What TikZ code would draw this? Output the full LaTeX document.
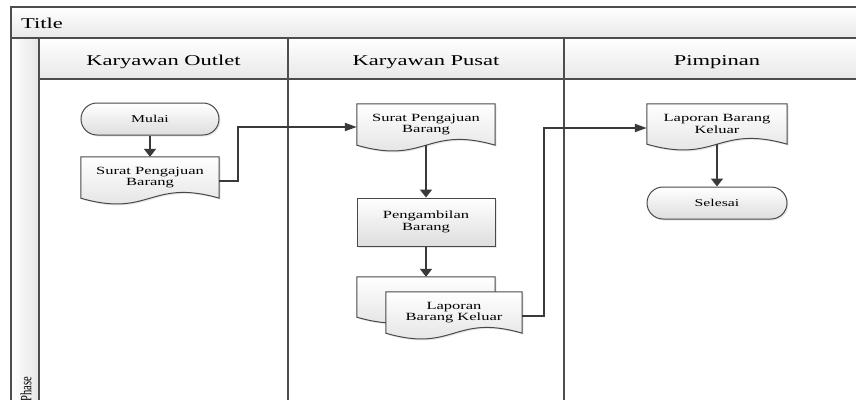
\documentclass[tikz,border=0pt]{standalone}
\usepackage{fontspec}
\setmainfont{Liberation Serif}[FakeStretch=1.5]
\newfontfamily\plainserif{Liberation Serif}
\usetikzlibrary{arrows.meta,backgrounds,shadows,shapes.misc}

\definecolor{frameline}{HTML}{4D4D4D}
\definecolor{flowline}{HTML}{3A3A3A}
\definecolor{shapeline}{HTML}{484848}

\tikzset{
  bandfill/.style={top color=white, bottom color=black!9},
  laneline/.style={draw=frameline, line width=2pt},
  headtext/.style={font=\fontsize{15}{15}\selectfont, inner sep=0pt, anchor=base},
  shapefill/.style={top color=white, bottom color=black!13, draw=shapeline, line width=1pt,
    drop shadow={opacity=0.18, shadow xshift=1.5pt, shadow yshift=-1.5pt}},
  textbox/.style={rectangle, inner sep=0pt, align=center, font=\fontsize{11}{11.5}\selectfont},
  docbox/.style={textbox},
  procbox/.style={textbox, shapefill},
  termbox/.style={rounded rectangle, inner sep=0pt, shapefill, font=\fontsize{10.5}{10.5}\selectfont},
  docshape/.style={insert path={(#1.north west) -- (#1.north east) -- (#1.south east)
    .. controls ([yshift=20pt]#1.south) and ([yshift=-20pt]#1.south) .. (#1.south west) -- cycle}},
  flow/.style={draw=flowline, line width=2pt},
  downarrow/.style={flow, -{Triangle[length=8pt,width=12pt]}},
  sidearrow/.style={flow, -{Triangle[length=12pt,width=8pt]}},
}

\begin{document}
\begin{tikzpicture}[x=1pt,y=-1pt]
\useasboundingbox (0,0) rectangle (856,399);

% ---- headings ----
\node[headtext, anchor=base west] (title) at (21,28) {Title};
\node[headtext] (laneA) at (163.5,65) {Karyawan Outlet};
\node[headtext] (laneB) at (426,65) {Karyawan Pusat};
\node[headtext] (laneC) at (717,65) {Pimpinan};
\node[rotate=90, anchor=east, inner sep=0pt, font=\plainserif\fontsize{10.5}{10.5}\selectfont]
  (phase) at (26,377) {\scalebox{1}[1.5]{Phase}};

% ---- flow shapes ----
\node[termbox, minimum width=138pt, minimum height=32pt] (mulai) at (150,119) {Mulai};
\node[docbox, minimum width=138pt, minimum height=41pt] (d1) at (150,177.5) {Surat Pengajuan\\Barang};
\node[docbox, minimum width=138pt, minimum height=41pt] (d2) at (426,124.5) {Surat Pengajuan\\Barang};
\node[procbox, minimum width=138pt, minimum height=48pt] (p1) at (426,222) {Pengambilan\\Barang};
\node[docbox, minimum width=138pt, minimum height=40pt] (mdb) at (426,297) {};
\node[docbox, minimum width=136pt, minimum height=41pt] (mdf) at (454,312.5) {Laporan\\Barang Keluar};
\node[docbox, minimum width=140pt, minimum height=40pt] (d3) at (717,124) {Laporan Barang\\Keluar};
\node[termbox, minimum width=140pt, minimum height=32pt] (selesai) at (717,203) {Selesai};

% ---- swimlane frame and document outlines, behind everything ----
\begin{scope}[on background layer]
  \clip (0,0) rectangle (856,399);
  \path[bandfill] (11,7) rectangle (870,38);
  \path[bandfill] (39,38) rectangle (870,79);
  \path[left color=white, right color=black!10] (11,38) rectangle (39,410);
  \draw[laneline] (11,410) -- (11,7) -- (870,7) -- (870,410);
  \draw[laneline] (11,38) -- (870,38);
  \draw[laneline] (39,79) -- (870,79);
  \draw[laneline] (39,38) -- (39,410);
  \draw[laneline] (288,38) -- (288,410);
  \draw[laneline] (564,38) -- (564,410);

  \path[shapefill, docshape=d1];
  \path[shapefill, docshape=d2];
  \path[shapefill, docshape=mdb];
  \path[shapefill, docshape=mdf];
  \path[shapefill, docshape=d3];
\end{scope}

% ---- connectors ----
\draw[downarrow] (mulai.south) -- (d1.north);
\draw[sidearrow] ([yshift=-3.5pt]d1.east) -- ++(19,0) |- ([yshift=-2.5pt]d2.west);
\draw[downarrow] (d2.south) -- (p1.north);
\draw[downarrow] (p1.south) -- (mdb.north);
\draw[sidearrow] ([yshift=-3.5pt]mdf.east) -- ++(22,0) |- ([yshift=-4pt]d3.west);
\draw[downarrow] (d3.south) -- (selesai.north);
\end{tikzpicture}
\end{document}
